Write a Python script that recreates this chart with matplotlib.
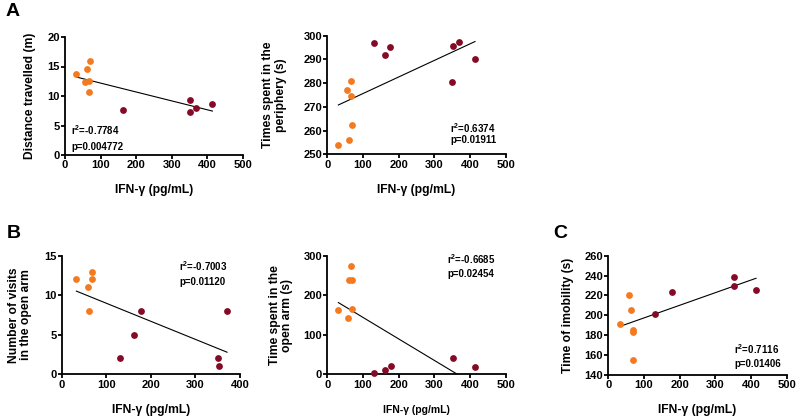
import numpy as np
import matplotlib
matplotlib.use('Agg')
import matplotlib.pyplot as plt

plt.rcParams['font.family'] = ['Liberation Sans', 'DejaVu Sans']
plt.rcParams['font.weight'] = 'bold'
plt.rcParams['mathtext.fontset'] = 'custom'
plt.rcParams['mathtext.rm'] = 'Liberation Sans:bold'
plt.rcParams['mathtext.default'] = 'rm'

ORANGE = '#F47A1F'
DARKRED = '#850A26'

# ---- A: distance travelled ----
a1_x_or = [32, 61, 69, 57, 68, 68]
a1_y_or = [13.75, 14.5, 15.85, 12.3, 12.5, 10.6]
a1_x_dr = [162, 352, 350, 369, 414]
a1_y_dr = [7.55, 9.4, 7.3, 8.0, 8.7]

# ---- A: time in periphery ----
a2_x_or = [67, 56, 67, 68, 61, 31]
a2_y_or = [281.1, 277.2, 274.6, 262.5, 256.1, 253.9]
a2_x_dr = [130, 162, 177, 351, 369, 414, 350]
a2_y_dr = [297.0, 291.7, 295.4, 295.8, 297.3, 290.1, 280.3]

# ---- B: visits in open arm ----
b1_x_or = [33, 58, 68, 69, 62]
b1_y_or = [12, 11, 12, 13, 8]
b1_x_dr = [131, 163, 179, 351, 353, 371]
b1_y_dr = [2, 5, 8, 2, 1, 8]

# ---- B: time in open arm ----
b2_x_or = [67, 60, 70, 31, 69, 57]
b2_y_or = [274.6, 237.3, 237.3, 162.7, 165.3, 143.2]
b2_x_dr = [130, 162, 178, 351, 414]
b2_y_dr = [4.2, 10.2, 22, 42.4, 17.8]

# ---- C: immobility ----
c_x_or = [59, 63, 33, 69, 70, 68]
c_y_or = [220.7, 205.5, 190.7, 185.3, 183.2, 154.5]
c_x_dr = [132, 178, 351, 353, 414]
c_y_dr = [200.8, 223.1, 238.6, 229.5, 225.8]

W, H = 797, 420
fig = plt.figure(figsize=(W / 100, H / 100), dpi=100)


def make_ax(left, top, right, bottom):
    return fig.add_axes([left / W, 1 - bottom / H, (right - left) / W, (bottom - top) / H])


def panel(ax, xo, yo, xd, yd, xlim, ylim, xticks, yticks, ylabel, stats, stat_pos,
          ylab_x, xlab_size=8.7):
    # linear fit over all points, drawn across the data range
    xs = np.array(xo + xd, dtype=float)
    ys = np.array(yo + yd, dtype=float)
    k, b = np.polyfit(xs, ys, 1)
    xl = np.array([xs.min(), xs.max()])
    ax.plot(xl, k * xl + b, color='black', lw=0.8, zorder=2)
    ax.scatter(xo, yo, s=24, color=ORANGE, zorder=3, clip_on=False, linewidths=0)
    ax.scatter(xd, yd, s=24, color=DARKRED, zorder=3, clip_on=False, linewidths=0)

    ax.set_xlim(*xlim)
    ax.set_ylim(*ylim)
    ax.set_xticks(xticks)
    ax.set_yticks(yticks)
    for s in ['top', 'right']:
        ax.spines[s].set_visible(False)
    for s in ['left', 'bottom']:
        ax.spines[s].set_linewidth(1.3)
    ax.tick_params(width=1.3, length=2.6, pad=1.2, labelsize=8)
    for lab in ax.get_xticklabels() + ax.get_yticklabels():
        lab.set_fontweight('bold')

    ax.set_xlabel('IFN-γ (pg/mL)', fontsize=xlab_size, fontweight='bold')
    ax.xaxis.label.set_va('center')
    ax.xaxis.set_label_coords(0.5, -0.30)
    ax.set_ylabel(ylabel, fontsize=8.7, fontweight='bold', linespacing=1.05)
    ax.yaxis.label.set_va('center')
    ax.yaxis.set_label_coords(ylab_x, 0.5)

    tx, ty1, ty2 = stat_pos
    ax.text(tx, ty1, stats[0], transform=ax.transAxes, ha='left', va='center',
            fontsize=7, fontweight='bold')
    ax.text(tx, ty2, stats[1], transform=ax.transAxes, ha='left', va='center',
            fontsize=7, fontweight='bold')


ax = make_ax(65, 37, 243, 155)
panel(ax, a1_x_or, a1_y_or, a1_x_dr, a1_y_dr, (0, 500), (0, 20),
      range(0, 501, 100), range(0, 21, 5), 'Distance travelled (m)',
      ['r$^{2}$=-0.7784', 'p=0.004772'], (0.034, 0.21, 0.07), -0.197)

ax = make_ax(327.3, 35.7, 505.7, 154.3)
panel(ax, a2_x_or, a2_y_or, a2_x_dr, a2_y_dr, (0, 500), (250, 300),
      range(0, 501, 100), range(250, 301, 10), 'Times spent in the\nperiphery (s)',
      ['r$^{2}$=0.6374', 'p=0.01911'], (0.688, 0.224, 0.12), -0.296)

ax = make_ax(61.7, 255.7, 240, 374.3)
panel(ax, b1_x_or, b1_y_or, b1_x_dr, b1_y_dr, (0, 400), (0, 15),
      range(0, 401, 100), range(0, 16, 5), 'Number of visits\nin the open arm',
      ['r$^{2}$=-0.7003', 'p=0.01120'], (0.66, 0.916, 0.78), -0.234)

ax = make_ax(327.3, 255.7, 505.7, 374.3)
panel(ax, b2_x_or, b2_y_or, b2_x_dr, b2_y_dr, (0, 500), (0, 300),
      range(0, 501, 100), range(0, 301, 100), 'Time spent in the\nopen arm (s)',
      ['r$^{2}$=-0.6685', 'p=0.02454'], (0.671, 0.97, 0.846), -0.26, xlab_size=7.5)

ax = make_ax(608.3, 255.7, 786.7, 374.7)
panel(ax, c_x_or, c_y_or, c_x_dr, c_y_dr, (0, 500), (140, 260),
      range(0, 501, 100), range(140, 261, 20), 'Time of imobility (s)',
      ['r$^{2}$=0.7116', 'p=0.01406'], (0.705, 0.213, 0.087), -0.226)

for letter, px, py in [('A', 6, 12), ('B', 7, 233), ('C', 553, 233)]:
    fig.text(px / W, 1 - py / H, letter, fontsize=14, fontweight='bold',
             ha='left', va='center')

fig.savefig('out.png', dpi=100)
